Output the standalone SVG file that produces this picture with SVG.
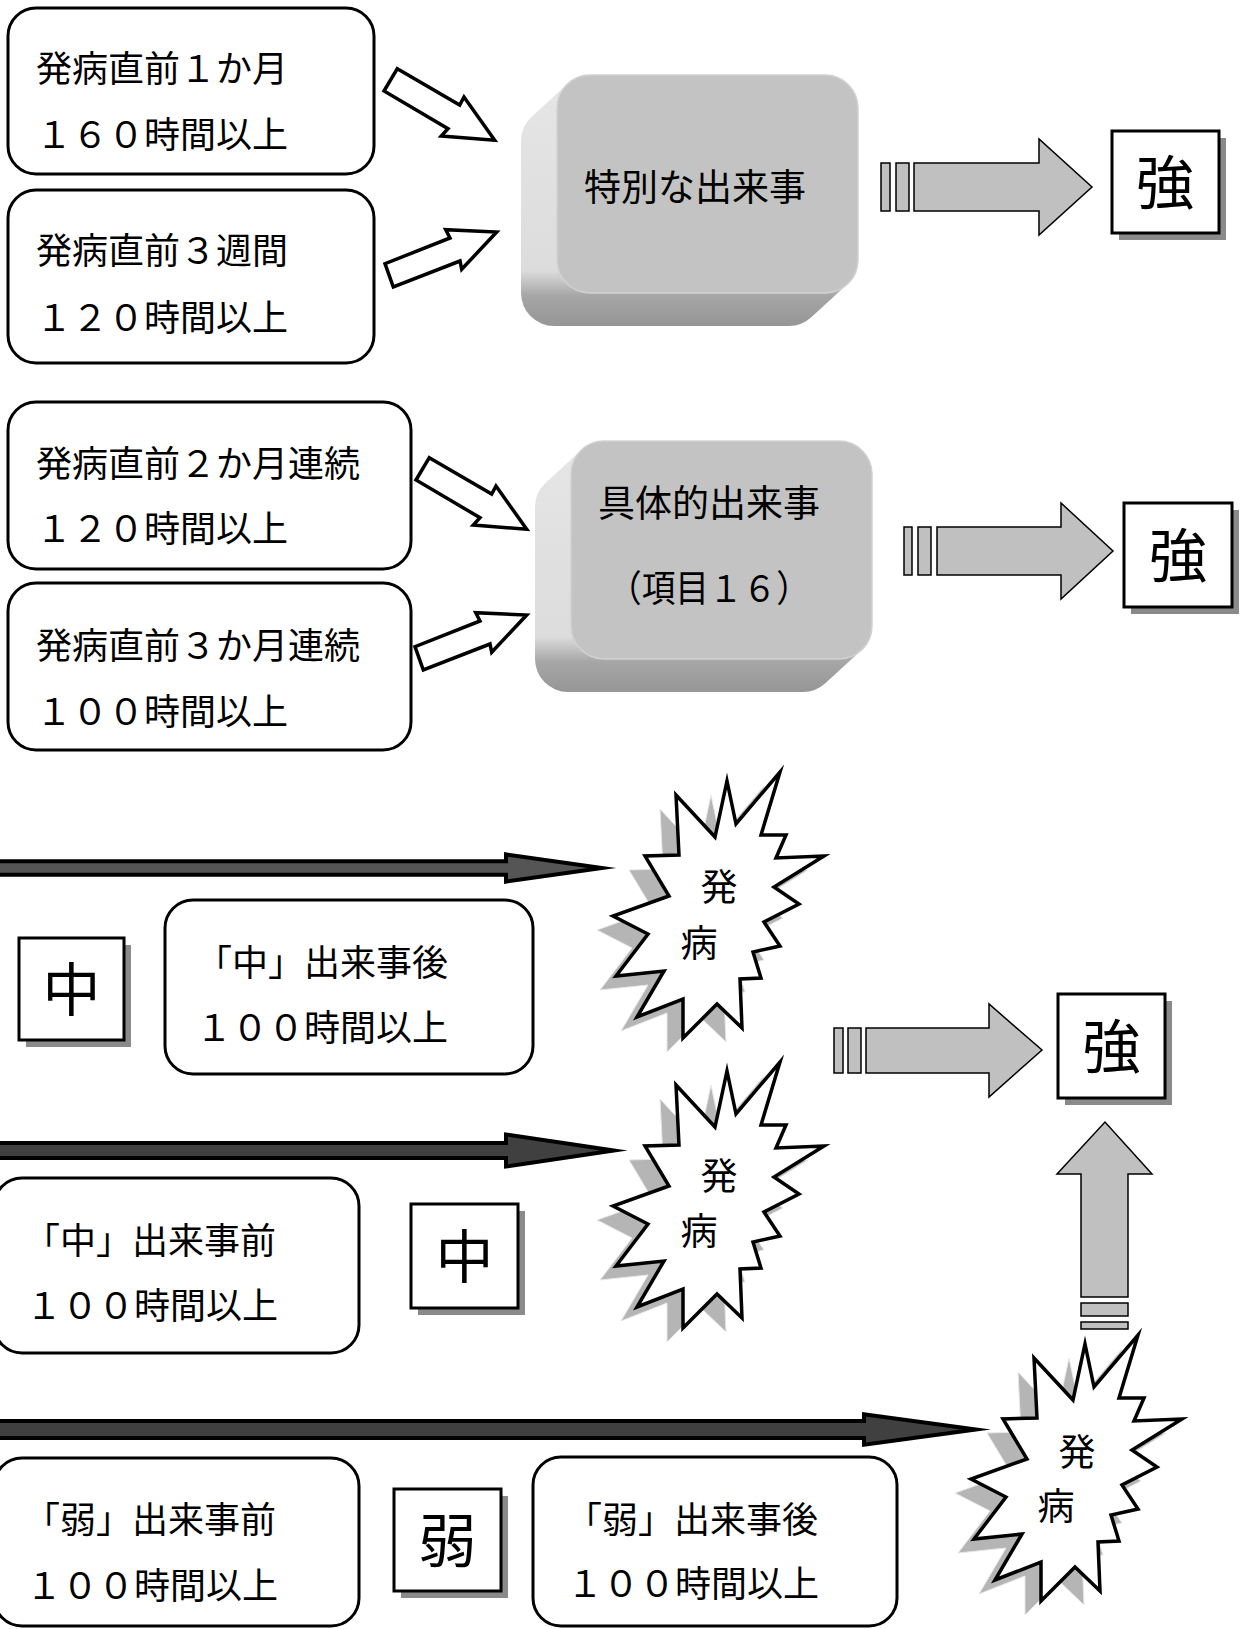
<svg xmlns="http://www.w3.org/2000/svg" xmlns:xlink="http://www.w3.org/1999/xlink" width="1246" height="1629" viewBox="0 0 1246 1629">
<style>
.box{fill:#fff;stroke:#000;stroke-width:3}
.t{font-family:"Noto Sans CJK JP","Noto Sans CJK SC",sans-serif;font-size:36px;fill:#000}
.tk{font-family:"Noto Sans CJK JP","Noto Sans CJK SC",sans-serif;font-size:37px;fill:#000;text-anchor:middle}
.tb{font-family:"Noto Sans CJK JP","Noto Sans CJK SC",sans-serif;font-size:58px;fill:#000;text-anchor:middle}
.tf{font-family:"Noto Sans CJK JP","Noto Sans CJK SC",sans-serif;font-size:37px;fill:#000;text-anchor:middle}
.hollow{fill:#fff;stroke:#000;stroke-width:3.5;stroke-linejoin:miter;stroke-miterlimit:10}
.fat{fill:#c0c0c0;stroke:#000;stroke-width:1.5}
.dark{stroke:#000;stroke-width:4;stroke-linejoin:miter;stroke-miterlimit:20}
.sq{fill:#fff;stroke:#000;stroke-width:3}
.sh{fill:#8a8a8a}
.burst{fill:#fff;stroke:#000;stroke-width:3.5;stroke-linejoin:miter;stroke-miterlimit:20}
.bsh{fill:#b5b5b5;stroke:#e8e8e8;stroke-width:1}
.face{fill:#c3c3c3;stroke:#d2d2d2;stroke-width:1.5}
</style>
<defs>
<linearGradient id="bevel" gradientUnits="userSpaceOnUse" x1="0" y1="75" x2="0" y2="326">
<stop offset="0" stop-color="#e6e6e6"/>
<stop offset="0.78" stop-color="#dcdcdc"/>
<stop offset="0.88" stop-color="#a6a6a6"/>
<stop offset="1" stop-color="#969696"/>
</linearGradient>
<g id="keyShape">
<path fill="url(#bevel)" d="M590,75 H825 A33,33 0 0 1 858,108 V260 A33,33 0 0 1 847.3,284.3 L811.3,317.3 A33,33 0 0 1 789,326 H554 A33,33 0 0 1 521,293 V141 A33,33 0 0 1 531.7,116.7 L567.7,83.7 A33,33 0 0 1 590,75 Z"/>
<rect class="face" x="557" y="75" width="301" height="218" rx="33" ry="33"/>
</g>
<polygon id="burstShape" points="727,1071 736,1114 780,1062 761,1125 786,1125 776,1148 824,1146 774,1177 799,1194 764,1212 780,1236 753,1242 761,1268 740,1269 742,1318 717,1294 683,1328 683,1289 637,1307 664,1261 616,1266 648,1224 613,1206 669,1186 645,1146 679,1145 676,1085 715,1127"/>
</defs>

<g id="box1">
<rect class="box" x="8" y="8" width="366" height="166" rx="28" ry="28"/>
<text class="t" x="36" y="82">発病直前１か月</text>
<text class="t" x="36" y="148">１６０時間以上</text>
</g>
<g id="box2">
<rect class="box" x="8" y="190" width="366" height="173" rx="28" ry="28"/>
<text class="t" x="36" y="264">発病直前３週間</text>
<text class="t" x="36" y="331">１２０時間以上</text>
</g>
<g id="key1">
<use xlink:href="#keyShape"/>
<text class="tk" x="695" y="201">特別な出来事</text>
</g>
<g id="strong1">
<rect class="sh" x="1119" y="138" width="107" height="102"/>
<rect class="sq" x="1112" y="131" width="107" height="102"/>
<text class="tb" x="1165" y="204">強</text>
</g>

<g id="box3">
<rect class="box" x="8" y="402" width="403" height="167" rx="28" ry="28"/>
<text class="t" x="36" y="477">発病直前２か月連続</text>
<text class="t" x="36" y="542">１２０時間以上</text>
</g>
<g id="box4">
<rect class="box" x="8" y="583" width="403" height="167" rx="28" ry="28"/>
<text class="t" x="36" y="659">発病直前３か月連続</text>
<text class="t" x="36" y="725">１００時間以上</text>
</g>
<g id="key2">
<use xlink:href="#keyShape" transform="translate(14,366)"/>
<text class="tk" x="709" y="517">具体的出来事</text>
<text class="tk" x="709" y="602" textLength="202" lengthAdjust="spacingAndGlyphs">（項目１６）</text>
</g>
<g id="strong2">
<rect class="sh" x="1131" y="510" width="108" height="104"/>
<rect class="sq" x="1124" y="503" width="108" height="104"/>
<text class="tb" x="1178" y="577">強</text>
</g>

<g id="burst1">
<use xlink:href="#burstShape" class="bsh" transform="translate(-16,-276)"/>
<use xlink:href="#burstShape" class="burst" transform="translate(0,-290)"/>
<text class="tf" x="719" y="901">発</text>
<text class="tf" x="699" y="957">病</text>
</g>
<g id="mid1">
<rect class="sh" x="26" y="945" width="105" height="102"/>
<rect class="sq" x="19" y="938" width="105" height="102"/>
<text class="tb" x="71.5" y="1011">中</text>
</g>
<g id="box5">
<rect class="box" x="165" y="900" width="368" height="174" rx="28" ry="28"/>
<text class="t" x="196" y="976">「中」出来事後</text>
<text class="t" x="196" y="1041">１００時間以上</text>
</g>
<g id="strong3">
<rect class="sh" x="1065" y="1001" width="107" height="104"/>
<rect class="sq" x="1058" y="994" width="107" height="104"/>
<text class="tb" x="1111.5" y="1068">強</text>
</g>

<g id="burst2">
<use xlink:href="#burstShape" class="bsh" transform="translate(-16,14)"/>
<use xlink:href="#burstShape" class="burst"/>
<text class="tf" x="719" y="1190">発</text>
<text class="tf" x="699" y="1245">病</text>
</g>
<g id="box6">
<rect class="box" x="-6" y="1178" width="365" height="175" rx="28" ry="28"/>
<text class="t" x="24" y="1254">「中」出来事前</text>
<text class="t" x="26" y="1319">１００時間以上</text>
</g>
<g id="mid2">
<rect class="sh" x="418" y="1211" width="107" height="104"/>
<rect class="sq" x="411" y="1204" width="107" height="104"/>
<text class="tb" x="464.5" y="1278">中</text>
</g>

<g id="burst3">
<use xlink:href="#burstShape" class="bsh" transform="translate(342,287)"/>
<use xlink:href="#burstShape" class="burst" transform="translate(358,273)"/>
<text class="tf" x="1077" y="1466">発</text>
<text class="tf" x="1056" y="1520">病</text>
</g>
<g id="box7">
<rect class="box" x="-6" y="1458" width="365" height="168" rx="28" ry="28"/>
<text class="t" x="24" y="1533">「弱」出来事前</text>
<text class="t" x="26" y="1599">１００時間以上</text>
</g>
<g id="weak">
<rect class="sh" x="401" y="1496" width="107" height="102"/>
<rect class="sq" x="394" y="1489" width="107" height="102"/>
<text class="tb" x="447.5" y="1562">弱</text>
</g>
<g id="box8">
<rect class="box" x="533" y="1457" width="364" height="169" rx="28" ry="28"/>
<text class="t" x="566" y="1533">「弱」出来事後</text>
<text class="t" x="567" y="1597">１００時間以上</text>
</g>

<g id="connectors">
<polygon class="hollow" points="397.3,68.7 459.7,105 464,97 494.7,140.3 441.3,136 448,128.7 384,91"/>
<polygon class="hollow" points="393.3,287 385,263.7 450,238 445.7,229.7 496.7,232 461.7,269.3 460,261"/>
<polygon class="hollow" points="429.3,457.7 491.7,494 496,486 526.7,529.3 473.3,525 480,517.7 416,480"/>
<polygon class="hollow" points="423.3,670 415,646.7 480,621 475.7,612.7 526.7,615 491.7,652.3 490,644"/>

<rect class="fat" x="881" y="163" width="9" height="48"/>
<rect class="fat" x="896" y="163" width="13" height="48"/>
<polygon class="fat" points="914,163 1039,163 1039,139 1092,187 1039,235 1039,211 914,211"/>

<rect class="fat" x="904" y="527" width="8" height="48"/>
<rect class="fat" x="918" y="527" width="13" height="48"/>
<polygon class="fat" points="937,527 1061,527 1061,503 1113,551 1061,599 1061,575 937,575"/>

<rect class="fat" x="834" y="1028" width="9" height="45"/>
<rect class="fat" x="848" y="1028" width="13" height="45"/>
<polygon class="fat" points="866,1028 989,1028 989,1004 1042,1050 989,1097 989,1073 866,1073"/>

<polygon class="fat" points="1081,1297 1081,1174 1057,1174 1105,1122 1152,1174 1128,1174 1128,1297"/>
<rect class="fat" x="1081" y="1303" width="47" height="13"/>
<rect class="fat" x="1081" y="1322" width="47" height="7"/>

<polygon class="dark" fill="#555" points="-10,861.3 506,861.3 506,854.4 602,868 506,881.6 506,874.7 -10,874.7"/>
<polygon class="dark" fill="#404040" points="-10,1143 506,1143 506,1134.5 614,1150.5 506,1166.5 506,1158 -10,1158"/>
<polygon class="dark" fill="#404040" points="-10,1421 864,1421 864,1414.3 976,1429.5 864,1444.7 864,1438 -10,1438"/>
</g>
</svg>
